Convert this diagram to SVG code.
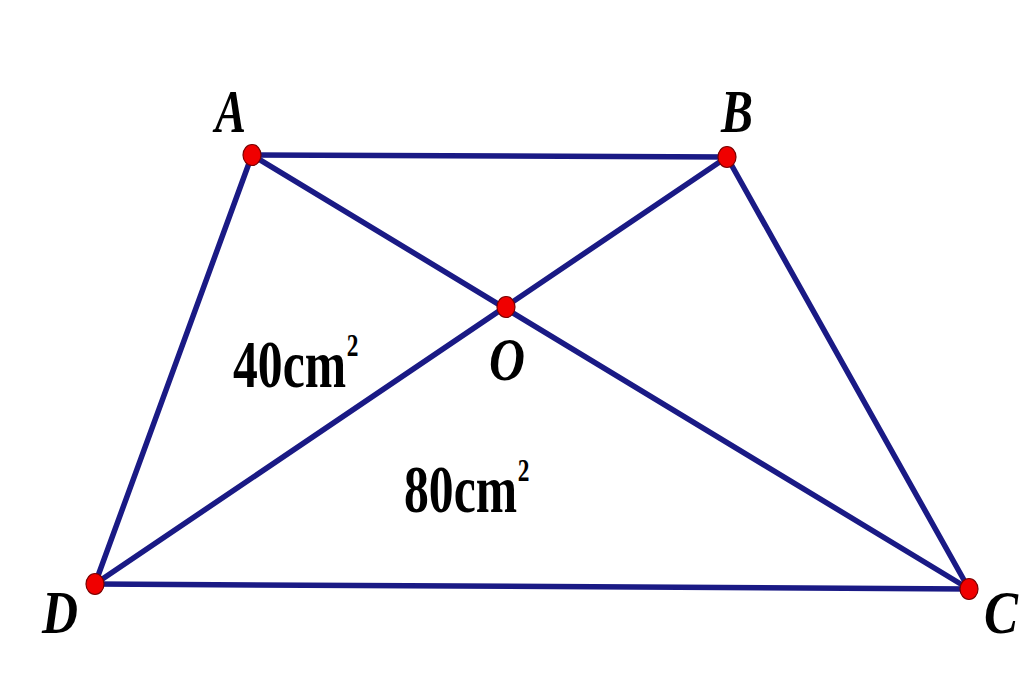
<svg xmlns="http://www.w3.org/2000/svg" width="1024" height="680" viewBox="0 0 1024 680">
<style>
.ln{stroke:#1a1a85;stroke-width:5.5;stroke-linecap:round;fill:none}
.pt{fill:#f00000;stroke:#7a0000;stroke-width:1.2}
.lb{font-family:"Liberation Serif",serif;font-weight:bold;font-style:italic;font-size:62px;fill:#000}
.ar{font-family:"Liberation Serif",serif;font-weight:bold;font-size:68px;fill:#000}
.sup{font-size:32px}
</style>
<rect width="1024" height="680" fill="#fff"/>
<g id="connectors">
<line class="ln" x1="252" y1="155" x2="727" y2="157"/>
<line class="ln" x1="252" y1="155" x2="95" y2="584"/>
<line class="ln" x1="727" y1="157" x2="969" y2="589"/>
<line class="ln" x1="95" y1="584" x2="969" y2="589"/>
<line class="ln" x1="252" y1="155" x2="969" y2="589"/>
<line class="ln" x1="727" y1="157" x2="95" y2="584"/>
</g>
<g id="A"><ellipse class="pt" cx="252" cy="155" rx="9" ry="10.5"/><text class="lb" x="215" y="132" textLength="31" lengthAdjust="spacingAndGlyphs">A</text></g>
<g id="B"><ellipse class="pt" cx="727" cy="157" rx="9" ry="10.5"/><text class="lb" x="721" y="132" textLength="32" lengthAdjust="spacingAndGlyphs">B</text></g>
<g id="O"><ellipse class="pt" cx="506" cy="307" rx="9" ry="10.5"/><text class="lb" x="489" y="380" textLength="36" lengthAdjust="spacingAndGlyphs">O</text></g>
<g id="D"><ellipse class="pt" cx="95" cy="584" rx="9" ry="10.5"/><text class="lb" x="42" y="633" textLength="36" lengthAdjust="spacingAndGlyphs">D</text></g>
<g id="C"><ellipse class="pt" cx="969" cy="589" rx="9" ry="10.5"/><text class="lb" x="984" y="633" textLength="34" lengthAdjust="spacingAndGlyphs">C</text></g>
<g id="area1" transform="translate(233,387) scale(0.73,1)"><text class="ar" x="0" y="0">40cm<tspan class="sup" dx="1" dy="-31">2</tspan></text></g>
<g id="area2" transform="translate(404,512) scale(0.73,1)"><text class="ar" x="0" y="0">80cm<tspan class="sup" dx="1" dy="-31">2</tspan></text></g>
</svg>
